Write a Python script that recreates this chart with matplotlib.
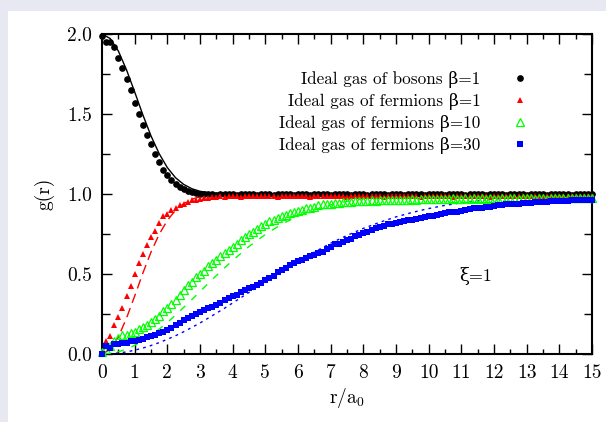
import matplotlib
matplotlib.use('Agg')

import numpy as np
import matplotlib.pyplot as plt
import matplotlib.ticker as mticker
from matplotlib.patches import Rectangle

plt.rcParams['font.family'] = ['cmr10', 'DejaVu Serif']
plt.rcParams['mathtext.fontset'] = 'cm'
plt.rcParams['axes.unicode_minus'] = False

# simulation points, r/a0 = 0 ... 15 in bins of 0.125
r_pts = np.linspace(0, 15, 121)

g_bos1 = [1.99, 1.95, 1.95, 1.92, 1.85, 1.79, 1.72, 1.65,
          1.57, 1.50, 1.43, 1.37, 1.31, 1.25, 1.20, 1.15,
          1.12, 1.09, 1.06, 1.045, 1.03, 1.02, 1.01, 1.005,
          1.0, 0.998, 0.997, 0.999, 0.996, 0.998, 1.0, 0.997,
          0.998, 0.996, 0.999, 0.997, 0.998, 1.0, 0.996, 0.998,
          0.997, 0.999, 0.996, 0.998, 0.997, 1.0, 0.998, 0.996,
          0.999, 0.997, 0.998, 0.996, 1.0, 0.997, 0.998, 0.999,
          0.996, 0.998, 0.997, 1.0, 0.998, 0.996, 0.999, 0.997,
          0.998, 0.996, 1.0, 0.997, 0.999, 0.998, 0.996, 0.998,
          0.997, 0.999, 0.996, 0.998, 1.0, 0.997, 0.998, 0.996,
          0.999, 0.997, 0.998, 1.0, 0.996, 0.998, 0.997, 0.999,
          0.998, 0.996, 0.999, 0.997, 1.0, 0.998, 0.996, 0.998,
          0.997, 0.999, 0.998, 0.996, 1.0, 0.997, 0.999, 0.998,
          0.996, 0.998, 0.997, 1.0, 0.998, 0.996, 0.999, 0.997,
          0.998, 0.997, 0.999, 0.996, 1.0, 0.998, 0.997, 0.999,
          1.0]

g_fer1 = [0.01, 0.08, 0.11, 0.18, 0.23, 0.29, 0.36, 0.425,
          0.50, 0.57, 0.625, 0.68, 0.73, 0.77, 0.82, 0.86,
          0.875, 0.90, 0.91, 0.93, 0.94, 0.95, 0.96, 0.965,
          0.97, 0.975, 0.978, 0.98, 0.982, 0.985, 0.983, 0.986,
          0.985, 0.988, 0.984, 0.987, 0.99, 0.986, 0.988, 0.985,
          0.989, 0.986, 0.988, 0.984, 0.987, 0.99, 0.986, 0.988,
          0.985, 0.989, 0.987, 0.984, 0.988, 0.986, 0.99, 0.987,
          0.988, 0.985, 0.989, 0.986, 0.984, 0.988, 0.987, 0.99,
          0.986, 0.988, 0.985, 0.989, 0.987, 0.984, 0.988, 0.986,
          0.99, 0.987, 0.985, 0.988, 0.986, 0.989, 0.984, 0.987,
          0.988, 0.986, 0.99, 0.985, 0.987, 0.988, 0.984, 0.989,
          0.986, 0.988, 0.985, 0.987, 0.99, 0.986, 0.988, 0.984,
          0.987, 0.989, 0.986, 0.988, 0.985, 0.99, 0.987, 0.986,
          0.988, 0.985, 0.989, 0.987, 0.984, 0.988, 0.986, 0.99,
          0.987, 0.985, 0.988, 0.986, 0.989, 0.987, 0.985, 0.988,
          0.988]

g_fer10 = [0.01, 0.03, 0.05, 0.08, 0.10, 0.12, 0.12, 0.13,
           0.14, 0.155, 0.17, 0.18, 0.20, 0.22, 0.24, 0.27,
           0.29, 0.31, 0.34, 0.37, 0.40, 0.43, 0.45, 0.48,
           0.50, 0.52, 0.55, 0.57, 0.59, 0.61, 0.63, 0.65,
           0.67, 0.69, 0.71, 0.73, 0.75, 0.76, 0.78, 0.80,
           0.81, 0.83, 0.84, 0.85, 0.86, 0.87, 0.88, 0.89,
           0.895, 0.90, 0.91, 0.915, 0.92, 0.93, 0.935, 0.94,
           0.94, 0.945, 0.945, 0.95, 0.95, 0.952, 0.955, 0.955,
           0.958, 0.957, 0.96, 0.958, 0.962, 0.96, 0.963, 0.961,
           0.964, 0.962, 0.965, 0.963, 0.967, 0.965, 0.968, 0.966,
           0.969, 0.967, 0.97, 0.968, 0.971, 0.969, 0.972, 0.97,
           0.968, 0.972, 0.97, 0.973, 0.969, 0.972, 0.97, 0.974,
           0.971, 0.969, 0.973, 0.97, 0.974, 0.972, 0.97, 0.975,
           0.972, 0.974, 0.971, 0.975, 0.973, 0.97, 0.974, 0.972,
           0.975, 0.973, 0.976, 0.972, 0.974, 0.976, 0.973, 0.975,
           0.976]

g_fer30 = [0.0, 0.05, 0.04, 0.06, 0.06, 0.07, 0.07, 0.08,
           0.08, 0.09, 0.095, 0.105, 0.11, 0.12, 0.13, 0.14,
           0.15, 0.165, 0.18, 0.195, 0.21, 0.225, 0.24, 0.25,
           0.26, 0.275, 0.285, 0.295, 0.305, 0.32, 0.335, 0.35,
           0.36, 0.37, 0.385, 0.40, 0.41, 0.42, 0.43, 0.445,
           0.46, 0.475, 0.49, 0.51, 0.525, 0.54, 0.555, 0.57,
           0.58, 0.59, 0.60, 0.61, 0.62, 0.63, 0.64, 0.655,
           0.67, 0.685, 0.69, 0.70, 0.71, 0.72, 0.735, 0.745,
           0.755, 0.765, 0.775, 0.785, 0.795, 0.80, 0.81, 0.815,
           0.82, 0.825, 0.83, 0.835, 0.84, 0.845, 0.85, 0.855,
           0.86, 0.865, 0.87, 0.875, 0.88, 0.885, 0.89, 0.89,
           0.895, 0.90, 0.905, 0.91, 0.91, 0.915, 0.92, 0.92,
           0.925, 0.93, 0.93, 0.935, 0.935, 0.94, 0.94, 0.945,
           0.945, 0.945, 0.95, 0.95, 0.95, 0.952, 0.955, 0.955,
           0.955, 0.958, 0.958, 0.96, 0.96, 0.96, 0.96, 0.962,
           0.962]

# analytic ideal gas curves
r_fit = [0, 0.25, 0.5, 0.75, 1, 1.25, 1.5, 1.75, 2, 2.25, 2.5, 2.75, 3,
         3.25, 3.5, 3.75, 4, 4.5, 5, 5.5, 6, 6.5, 7, 7.5, 8, 8.5, 9, 9.5,
         10, 10.5, 11, 11.5, 12, 12.5, 13, 13.5, 14, 14.5, 15]
fit_bos1 = [2.0, 1.972, 1.894, 1.776, 1.638, 1.495, 1.363, 1.252, 1.165,
            1.102, 1.060, 1.033, 1.017, 1.009, 1.004, 1.002, 1.001,
            1.0, 1.0, 1.0, 1.0, 1.0, 1.0, 1.0, 1.0, 1.0, 1.0, 1.0,
            1.0, 1.0, 1.0, 1.0, 1.0, 1.0, 1.0, 1.0, 1.0, 1.0, 1.0]
fit_fer1 = [0.0, 0.028, 0.106, 0.224, 0.362, 0.505, 0.637, 0.748, 0.835,
            0.898, 0.940, 0.967, 0.983, 0.991, 0.996, 0.998, 0.999,
            1.0, 1.0, 1.0, 1.0, 1.0, 1.0, 1.0, 1.0, 1.0, 1.0, 1.0,
            1.0, 1.0, 1.0, 1.0, 1.0, 1.0, 1.0, 1.0, 1.0, 1.0, 1.0]
fit_fer10 = [0.0, 0.003, 0.014, 0.030, 0.054, 0.082, 0.116, 0.155, 0.197,
             0.243, 0.291, 0.340, 0.390, 0.441, 0.490, 0.538, 0.585,
             0.672, 0.747, 0.811, 0.862, 0.902, 0.932, 0.955, 0.970,
             0.981, 0.988, 0.993, 0.996, 0.998, 0.999, 1.0, 1.0, 1.0,
             1.0, 1.0, 1.0, 1.0, 1.0]
fit_fer30 = [0.0, 0.002, 0.006, 0.013, 0.024, 0.037, 0.053, 0.071, 0.092,
             0.114, 0.139, 0.166, 0.194, 0.224, 0.255, 0.286, 0.319,
             0.385, 0.451, 0.516, 0.579, 0.637, 0.692, 0.741, 0.785,
             0.823, 0.857, 0.885, 0.909, 0.929, 0.945, 0.958, 0.968,
             0.976, 0.983, 0.987, 0.991, 0.994, 0.995]

labels = ['Ideal gas of bosons \u03b2=1',
          'Ideal gas of fermions \u03b2=1',
          'Ideal gas of fermions \u03b2=10',
          'Ideal gas of fermions \u03b2=30']

fig = plt.figure(figsize=(6.06, 4.22), dpi=100, facecolor='#e8e8f2')
# white panel behind the axes
panel = Rectangle((8/606, 0), 1, 411/422, transform=fig.transFigure,
                  facecolor='white', edgecolor='none', zorder=-10)
fig.add_artist(panel)
ax = fig.add_axes([102/606, 1-354/422, 490/606, 320/422])
ax.set_zorder(1)
ax.set_facecolor('white')

# curves
ax.plot(r_fit, fit_bos1, color='black', lw=1.0, zorder=2)
ax.plot(r_fit, fit_fer1, color='#ff0000', lw=1.0, dashes=(7, 4), zorder=2)
ax.plot(r_fit, fit_fer10, color='#00ff00', lw=1.0, dashes=(5, 6), zorder=2)
ax.plot(r_fit, fit_fer30, color='#0000ff', lw=1.0, dashes=(2, 3), zorder=2)

# points
h1, = ax.plot(r_pts, g_bos1, 'o', color='black', ms=3.8, ls='none',
              clip_on=False, zorder=3, label=labels[0])
h2, = ax.plot(r_pts, g_fer1, '^', color='#ff0000', ms=4, mew=0, ls='none',
              clip_on=False, zorder=3, label=labels[1])
h3, = ax.plot(r_pts, g_fer10, '^', mec='#00ff00', mfc='none', ms=5.5, mew=0.9,
              ls='none', clip_on=False, zorder=3, label=labels[2])
h4, = ax.plot(r_pts, g_fer30, 's', color='#0000ff', ms=5, mew=0, ls='none',
              clip_on=False, zorder=3, label=labels[3])

ax.set_xlim(0, 15)
ax.set_ylim(0, 2.0)
ax.xaxis.set_major_locator(mticker.MultipleLocator(1))
ax.xaxis.set_minor_locator(mticker.MultipleLocator(0.5))
ax.yaxis.set_major_locator(mticker.MultipleLocator(0.5))
ax.yaxis.set_minor_locator(mticker.MultipleLocator(0.25))
ax.yaxis.set_major_formatter(mticker.FormatStrFormatter('%.1f'))
ax.tick_params(which='both', direction='in', top=True, right=True, width=1.0)
ax.tick_params(which='major', length=7, labelsize=14, pad=7)
ax.tick_params(axis='x', which='minor', length=3.5)
ax.tick_params(axis='y', which='minor', length=6)
for s in ax.spines.values():
    s.set_linewidth(1.5)

ax.set_xlabel('r/a$_0$', fontsize=14, labelpad=3)
ax.set_ylabel('g(r)', fontsize=14, labelpad=9)

ax.text(10.95, 0.49, '\u03be=1', fontsize=13, ha='left', va='center')

ax.legend(handles=[h1, h2, h3, h4], loc='upper right', bbox_to_anchor=(0.87, 0.885),
          frameon=False, markerfirst=False, fontsize=12.3, handlelength=1.0,
          handletextpad=1.8, labelspacing=0.3, borderpad=0, borderaxespad=0)

fig.savefig('out.png', dpi=100, facecolor=fig.get_facecolor())
